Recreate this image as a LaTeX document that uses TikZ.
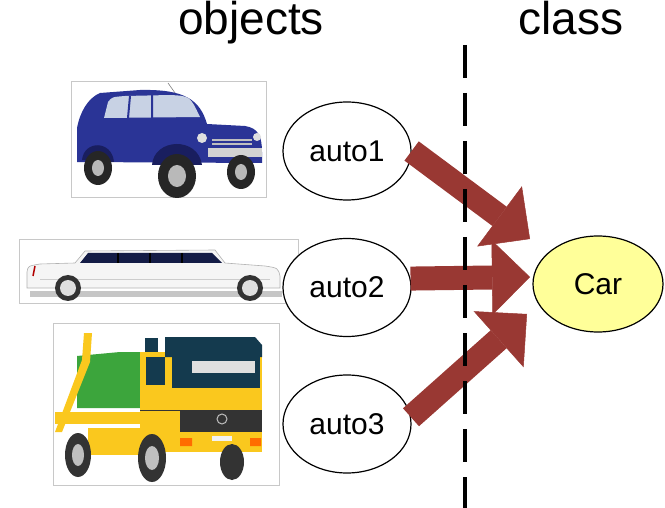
\documentclass[tikz,border=0pt]{standalone}
\usepackage{fontspec}
\setmainfont{Liberation Sans}
\usetikzlibrary{shapes.geometric,arrows.meta}

\definecolor{arrowred}{RGB}{153,56,51}
\definecolor{classyellow}{RGB}{255,255,153}
\definecolor{framegray}{RGB}{200,200,200}
\definecolor{carblue}{RGB}{42,52,150}
\definecolor{darkblue}{RGB}{25,30,95}
\definecolor{glass}{RGB}{200,210,228}
\definecolor{navy}{RGB}{20,28,70}
\definecolor{truckyellow}{RGB}{250,200,30}
\definecolor{truckgreen}{RGB}{60,165,60}
\definecolor{cabteal}{RGB}{20,58,78}

\begin{document}
\begin{tikzpicture}[x=1pt,y=-1pt,node distance=136.5pt,
  obj node/.style={ellipse,draw,line width=1.2pt,fill=white,inner sep=0pt,minimum width=128pt,minimum height=98pt,font=\fontsize{30}{36}\selectfont},
  class node/.style={obj node,fill=classyellow,minimum width=130pt,minimum height=96pt},
  title/.style={anchor=base,font=\fontsize{46}{55}\selectfont},
  photo/.style={draw=framegray,line width=0.8pt,fill=white},
  bigarrow/.style={color=arrowred,line width=24pt,-{Triangle[length=38pt,width=75pt,line width=0.5pt]}}]

  \useasboundingbox (0,0) rectangle (665,508);

  % vintage car
  \draw[photo] (71,81) rectangle (266,197);
  \draw[gray,line width=0.6pt] (168,83) -- (180,100);
  \fill[carblue] (77,162) -- (77,128) .. controls (80,112) and (88,98) .. (100,93) -- (140,90)
    .. controls (185,89) and (200,100) .. (207,124) -- (245,126) .. controls (258,128) and (262,136) .. (262,152) -- (262,163) -- cycle;
  \fill[darkblue] (82,160) .. controls (84,140) and (112,140) .. (114,162) -- cycle;
  \fill[darkblue] (152,165) .. controls (154,138) and (198,136) .. (202,165) -- cycle;
  \fill[glass] (104,118) -- (108,102) .. controls (112,97) .. (125,96) -- (170,95) .. controls (190,96) .. (200,117) -- cycle;
  \draw[carblue,line width=2pt] (130,96) -- (128,118) (152,95) -- (152,118);
  \fill[gray!35] (208,148) rectangle (262,157);
  \draw[gray!50,line width=1.5pt] (212,140) -- (252,140) (212,144) -- (252,144);
  \fill[gray!25] (202,138) circle (5) (257,137) circle (4);
  \fill[black!85] (98,168) ellipse (14 and 17) (177,176) ellipse (19 and 22) (241,172) ellipse (14 and 17);
  \fill[gray!55] (98,168) ellipse (6 and 8) (177,176) ellipse (9 and 11) (241,172) ellipse (6 and 8);

  % limousine
  \draw[photo] (19,239) rectangle (298,303);
  \fill[gray!45] (30,291) rectangle (282,297);
  \filldraw[fill=gray!8,draw=gray!60,line width=0.6pt] (27,288) -- (27,272) .. controls (28,266) .. (40,264) -- (75,263) -- (85,251)
    -- (215,250) -- (225,263) -- (265,266) .. controls (278,268) .. (280,276) -- (280,288) -- cycle;
  \fill[navy] (80,263) -- (88,253) -- (212,253) -- (222,263) -- cycle;
  \draw[black,line width=1.2pt] (118,253) -- (118,263) (150,253) -- (150,263) (182,253) -- (182,263);
  \draw[gray!40,line width=0.6pt] (40,279) -- (270,279);
  \draw[red!70!black,line width=1.5pt] (33,276) -- (35,266);
  \fill[black!80] (68,288) circle (13) (250,288) circle (13);
  \fill[gray!25] (68,288) circle (8) (250,288) circle (8);

  % skip truck
  \draw[photo] (53,323) rectangle (279,485);
  \fill[truckgreen] (77,356) -- (120,352) -- (140,352) -- (140,408) -- (77,408) -- cycle;
  \fill[truckyellow] (84,333) -- (92,333) -- (90,362) -- (62,432) -- (55,432) -- (82,360) -- cycle;
  \fill[truckyellow] (55,412) rectangle (142,424);
  \fill[truckyellow] (88,428) rectangle (140,455);
  \fill[truckyellow] (140,352) rectangle (262,452);
  \fill[cabteal] (145,338) rectangle (158,352);
  \fill[cabteal] (165,337) -- (255,337) -- (262,345) -- (262,357) -- (165,357) -- cycle;
  \fill[cabteal] (172,357) rectangle (260,388);
  \fill[gray!25] (192,361) rectangle (255,373);
  \fill[cabteal] (146,357) rectangle (165,385);
  \fill[black!80] (180,410) rectangle (262,432);
  \draw[black!80,line width=1pt] (140,410) -- (180,410);
  \draw[gray!50,line width=1pt] (222,419) circle (5);
  \fill[gray!10] (212,436) rectangle (232,441);
  \fill[orange!85!red] (180,438) rectangle (192,446) (250,438) rectangle (261,446);
  \fill[black!80] (78,455) ellipse (13 and 22) (152,458) ellipse (14 and 24) (232,462) ellipse (12 and 18);
  \fill[gray!50] (78,455) ellipse (6 and 11) (152,458) ellipse (7 and 12);

  % objects and class
  \node[obj node] (auto1) at (347,151) {auto1};
  \node[obj node] (auto2) [below of = auto1] {auto2};
  \node[obj node] (auto3) [below of = auto2] {auto3};
  \node[class node] (car) at (598,284) {Car};

  \coordinate (tip1) at (530,239);
  \coordinate (tip2) at (530,277);
  \coordinate (tip3) at (527,314);

  \draw[bigarrow] (auto1.east) -- (tip1);
  \draw[bigarrow] (auto2.8) -- (tip2);
  \draw[bigarrow] (auto3.6) -- (tip3);

  \draw[line width=4pt,dash pattern=on 33pt off 15pt] (465,45) -- (465,508);

  \node[title] (objects) at (251,35) {objects};
  \node[title] (class) at (571,35) {class};
\end{tikzpicture}
\end{document}
